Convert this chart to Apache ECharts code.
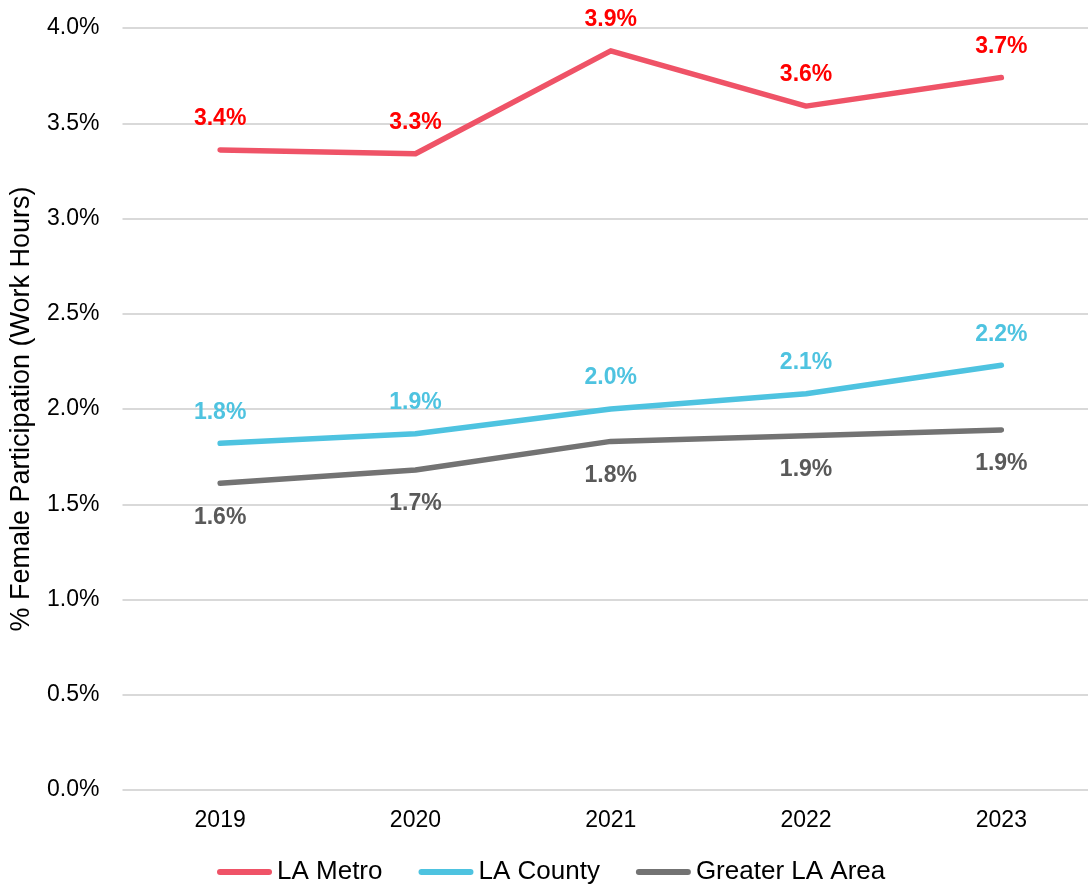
<!DOCTYPE html>
<html>
<head>
<meta charset="utf-8">
<script src="https://cdn.jsdelivr.net/npm/echarts@6/dist/echarts.min.js"></script>
<style>
    html, body { margin: 0; padding: 0; background: #fff; overflow: hidden; }
    /* plot area runs a little past the right edge, as in the original */
    #chart { width: 1099px; height: 886px; }
</style>
</head>
<body>
<div id="chart"></div>
<script>
    // years on the x axis
    var years = ['2019', '2020', '2021', '2022', '2023'];
    // % female participation (work hours)
    var laMetro = [3.36, 3.34, 3.88, 3.59, 3.74];
    var laCounty = [1.82, 1.87, 2.00, 2.08, 2.23];
    var greaterLA = [1.61, 1.68, 1.83, 1.86, 1.89];

    var font = '"Liberation Sans", Arial, sans-serif';
    var legendIcon = 'path://M3,0 L52,0 A3,3 0 0 1 52,6 L3,6 A3,3 0 0 1 3,0 Z';

    function pct(p) {
        return p.value.toFixed(1) + '%';
    }

    function lineSeries(name, data, lineColor, labelColor, pos, dist) {
        return {
            name: name,
            type: 'line',
            data: data,
            symbol: 'circle',
            symbolSize: 1,
            showSymbol: true,
            itemStyle: { color: lineColor },
            lineStyle: { color: lineColor, width: 5.5, cap: 'round', join: 'round' },
            label: {
                show: true,
                position: pos,
                distance: dist,
                formatter: pct,
                color: labelColor,
                fontFamily: font,
                fontWeight: 'bold',
                fontSize: 23
            },
            emphasis: { disabled: true },
            animation: false
        };
    }

    var chart = echarts.init(document.getElementById('chart'));
    chart.setOption({
        backgroundColor: '#fff',
        grid: { left: 122.5, top: 28, right: 0, bottom: 96, containLabel: false },
        legend: {
            left: 217,
            top: 859,
            padding: 0,
            itemWidth: 55,
            itemHeight: 7,
            itemGap: 36,
            icon: legendIcon,
            textStyle: { fontFamily: font, fontSize: 26, color: '#000' },
            data: ['LA Metro', 'LA County', 'Greater LA Area']
        },
        xAxis: {
            type: 'category',
            data: years,
            axisLine: { show: false },
            axisTick: { show: false },
            axisLabel: { fontFamily: font, fontSize: 23, color: '#000', margin: 19 }
        },
        yAxis: {
            type: 'value',
            min: 0,
            max: 4,
            interval: 0.5,
            name: '% Female Participation (Work Hours)',
            nameLocation: 'middle',
            nameGap: 87,
            nameTextStyle: { fontFamily: font, fontSize: 27, color: '#000' },
            axisLine: { show: false },
            axisTick: { show: false },
            splitLine: { lineStyle: { color: '#d9d9d9', width: 2 } },
            axisLabel: {
                fontFamily: font, fontSize: 23, color: '#000', margin: 23,
                formatter: function (v) { return v.toFixed(1) + '%'; }
            }
        },
        series: [
            lineSeries('LA Metro', laMetro, '#ef5367', '#ff0000', 'top', 19),
            lineSeries('LA County', laCounty, '#4ec3e0', '#4ec3e0', 'top', 19),
            lineSeries('Greater LA Area', greaterLA, '#737373', '#595959', 'bottom', 22)
        ]
    });
</script>
</body>
</html>
